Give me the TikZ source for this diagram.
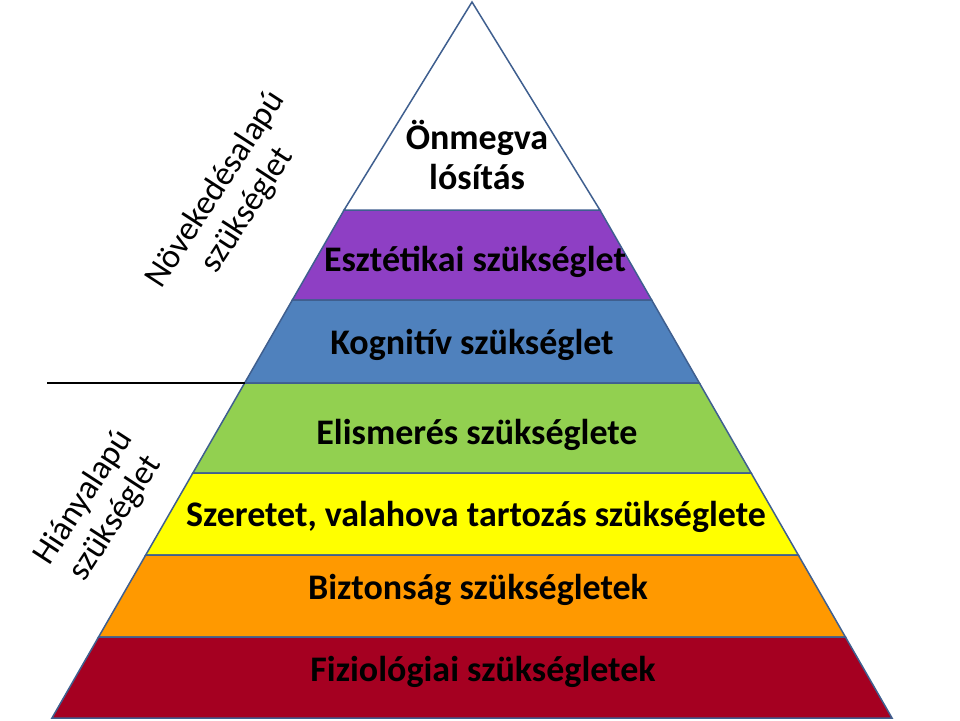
\documentclass[tikz,border=0pt]{standalone}
\usepackage{fontspec}
\setmainfont{Carlito}
\begin{document}
\begin{tikzpicture}[x=1pt,y=-1pt,
  lay/.style={draw=edgec,line width=1.5pt},
  lab/.style={font=\fontsize{36}{40}\selectfont\bfseries,align=center},
  side/.style={font=\fontsize{34}{38}\selectfont,align=center,rotate=57}]
\definecolor{edgec}{HTML}{3F5F8F}
\useasboundingbox (0,0) rectangle (960,720);
\def\xl#1{52+(718-#1)*0.575}
\def\xr#1{892-(718-#1)*0.575}
\foreach \ya/\yb/\c in {210/300/8E3FC4,300/383/4F81BD,383/473/92D050,473/555/FFFF00,555/637/FF9900,637/718/A50021}{
  \definecolor{cc}{HTML}{\c}
  \filldraw[lay,fill=cc] ({\xl{\ya}},\ya) -- ({\xr{\ya}},\ya) -- ({\xr{\yb}},\yb) -- ({\xl{\yb}},\yb) -- cycle;
}
\filldraw[lay,fill=white] (472,2) -- ({\xr{210}},210) -- ({\xl{210}},210) -- cycle;
\node[lab] (t0) at (477,155) {Önmegva\\lósítás};
\node[lab] (t1) at (475,262) {Esztétikai szükséglet};
\node[lab] (t2) at (472,345) {Kognitív szükséglet};
\node[lab] (t3) at (477,435) {Elismerés szükséglete};
\node[lab] (t4) at (476,517) {Szeretet, valahova tartozás szükséglete};
\node[lab] (t5) at (478,590) {Biztonság szükségletek};
\node[lab] (t6) at (483,672) {Fiziológiai szükségletek};
\coordinate (l1) at (47,383);
\coordinate (l2) at ({\xl{383}},383);
\draw[line width=1.5pt] (l1) -- (l2);
\node[side] (s1) at (232,200) {Növekedésalapú\\szükséglet};
\node[side] (s2) at (100,508) {Hiányalapú\\szükséglet};
\end{tikzpicture}
\end{document}
